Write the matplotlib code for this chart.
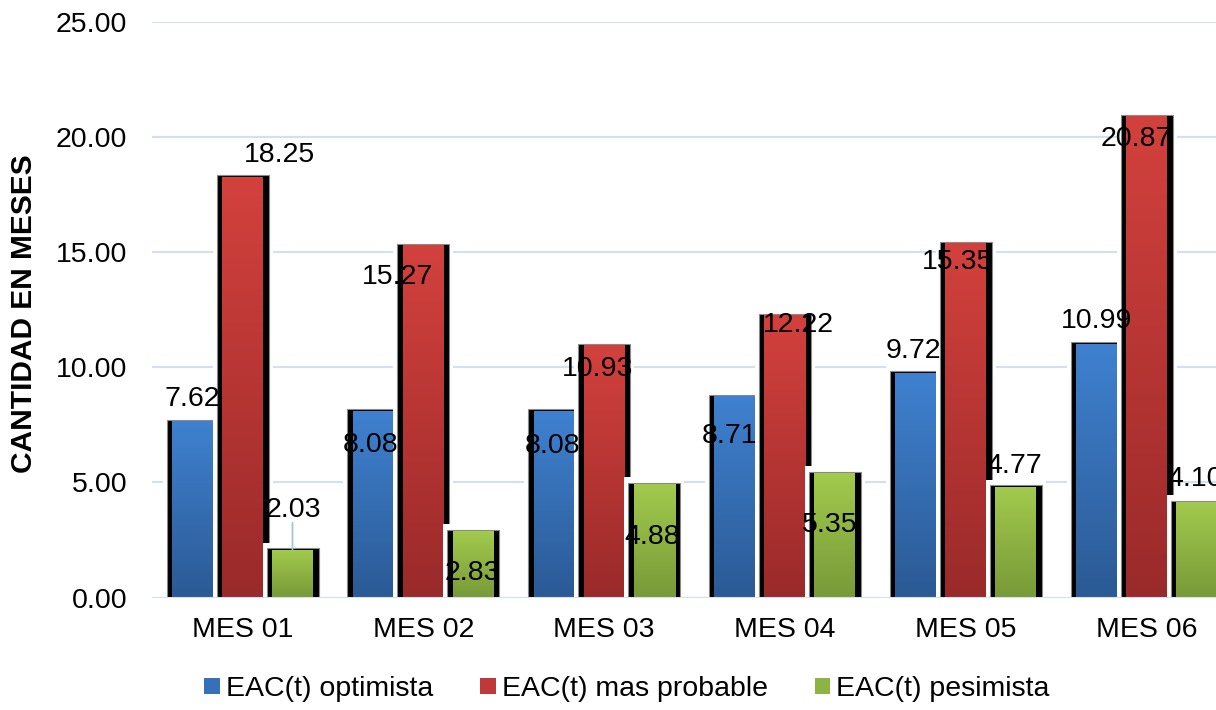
import numpy as np
import matplotlib
matplotlib.use('Agg')
import matplotlib.pyplot as plt
from matplotlib.colors import LinearSegmentedColormap
from matplotlib.patches import Rectangle, Patch

# ---------------- data ----------------
categories = ['MES 01', 'MES 02', 'MES 03', 'MES 04', 'MES 05', 'MES 06']
series_names = ['EAC(t) optimista', 'EAC(t) mas probable', 'EAC(t) pesimista']
optimista = [7.62, 8.08, 8.08, 8.71, 9.72, 10.99]
mas_probable = [18.25, 15.27, 10.93, 12.22, 15.35, 20.87]
pesimista = [2.03, 2.83, 4.88, 5.35, 4.77, 4.10]
y_ticks = [0, 5, 10, 15, 20, 25]
y_label = 'CANTIDAD EN MESES'

# ---------------- style / layout ----------------
plt.rcParams['font.family'] = ['Liberation Sans', 'DejaVu Sans']
FS = 20.5
W, H = 1216, 710
grad_colors = [  # (bottom, top)
    ('#2b5a95', '#3f81d0'),
    ('#9a2a2a', '#d3413d'),
    ('#789a38', '#a2ca4d'),
]
legend_colors = ['#3670b8', '#c0393a', '#8db443']
grid_color = '#d3e0f1'

# label offsets (pixels, image coords: +dy = down) from bar top centre
label_offsets = [
    [(-0.5, -26), (-3, 30), (-2, 31), (-5, 36), (-2, -26), (0.5, -27)],
    [(37.5, -25.6), (-26, 28), (-7, 20), (13, 5), (-8, 14), (-10, 18)],
    [(0.5, -44), (-1, 37), (-2, 49), (-5, 47), (-2, -25), (-1.5, -27)],
]
leader_lines = [[False] * 6, [False] * 6, [True] + [False] * 5]

fig = plt.figure(figsize=(W / 100, H / 100), dpi=100)
ax_left, ax_right = 152.1, 1236.9
ax_top, ax_bottom = 22.3, 597.5
ax = fig.add_axes([ax_left / W, (H - ax_bottom) / H,
                   (ax_right - ax_left) / W, (ax_bottom - ax_top) / H])
xlim = (-0.5, len(categories) - 0.5)
ylim = (0, 25)
px_x = (xlim[1] - xlim[0]) / (ax_right - ax_left)
px_y = (ylim[1] - ylim[0]) / (ax_bottom - ax_top)

bar_w = 41 * px_x
pitch = 50 * px_x
shadow = 5.5 * px_x
shadow_top = 2.5 * px_y
glow_x = 4 * px_x
glow_top = 8 * px_y

series = [optimista, mas_probable, pesimista]
x = np.arange(len(categories))
for j, vals in enumerate(series):
    cmap = LinearSegmentedColormap.from_list('g%d' % j, list(grad_colors[j]))
    grad = np.linspace(0, 1, 256).reshape(-1, 1)
    for i, v in enumerate(vals):
        cx = x[i] + (j - 1) * pitch
        x0, x1 = cx - bar_w / 2, cx + bar_w / 2
        z = 2 + j * 0.3
        ax.add_patch(Rectangle((x0 - shadow - glow_x, 0), bar_w + 2 * (shadow + glow_x),
                               v + glow_top, facecolor='white', edgecolor='none', zorder=z))
        ax.add_patch(Rectangle((x0 - shadow, 0), bar_w + 2 * shadow, v + shadow_top,
                               facecolor='black', edgecolor='#8a8a8a', linewidth=0.8,
                               zorder=z + 0.1))
        ax.imshow(grad, cmap=cmap, extent=(x0, x1, 0, v), origin='lower',
                  aspect='auto', interpolation='bilinear', zorder=z + 0.2)

# data labels
half_cap = 0.716 * FS / 0.72 / 2
for j, vals in enumerate(series):
    for i, v in enumerate(vals):
        cx = x[i] + (j - 1) * pitch
        dx, dy = label_offsets[j][i]
        ax.annotate('%.2f' % v, xy=(cx, v), xytext=(dx, -(dy + half_cap)),
                    textcoords='offset pixels', ha='center', va='baseline',
                    fontsize=FS, color='black', zorder=10, annotation_clip=False)
        if leader_lines[j][i]:
            ax.annotate('', xy=(cx, v), xytext=(0, 28), textcoords='offset pixels',
                        arrowprops=dict(arrowstyle='-', color='#a8c2e2', lw=1.3,
                                        shrinkA=0, shrinkB=1), zorder=9)

ax.set_xlim(*xlim)
ax.set_ylim(*ylim)
ax.set_yticks(y_ticks)
ax.set_yticklabels(['%.2f' % t for t in y_ticks], fontsize=FS)
ax.set_xticks(x)
ax.set_xticklabels(categories, fontsize=FS)
ax.tick_params(axis='y', length=0, pad=18)
ax.tick_params(axis='x', length=0, pad=14)
for s in ax.spines.values():
    s.set_visible(False)
ax.set_axisbelow(True)
ax.yaxis.grid(True, color=grid_color, linewidth=1.5, zorder=0)
ax.axhline(0, color=grid_color, linewidth=1.5, zorder=9)

fig.text(24 / W, 1 - 314 / H, y_label, rotation=90, ha='center', va='center',
         fontsize=21.5, fontweight='bold')

handles = [Patch(facecolor=c, edgecolor='none') for c in legend_colors]
fig.legend(handles, series_names, loc='center', bbox_to_anchor=(627 / W, 1 - 689 / H),
           ncol=3, frameon=False, fontsize=FS, handlelength=0.55, handleheight=0.5,
           handletextpad=0.21, columnspacing=1.65, borderaxespad=0, borderpad=0)

fig.savefig('out.png', dpi=100)
